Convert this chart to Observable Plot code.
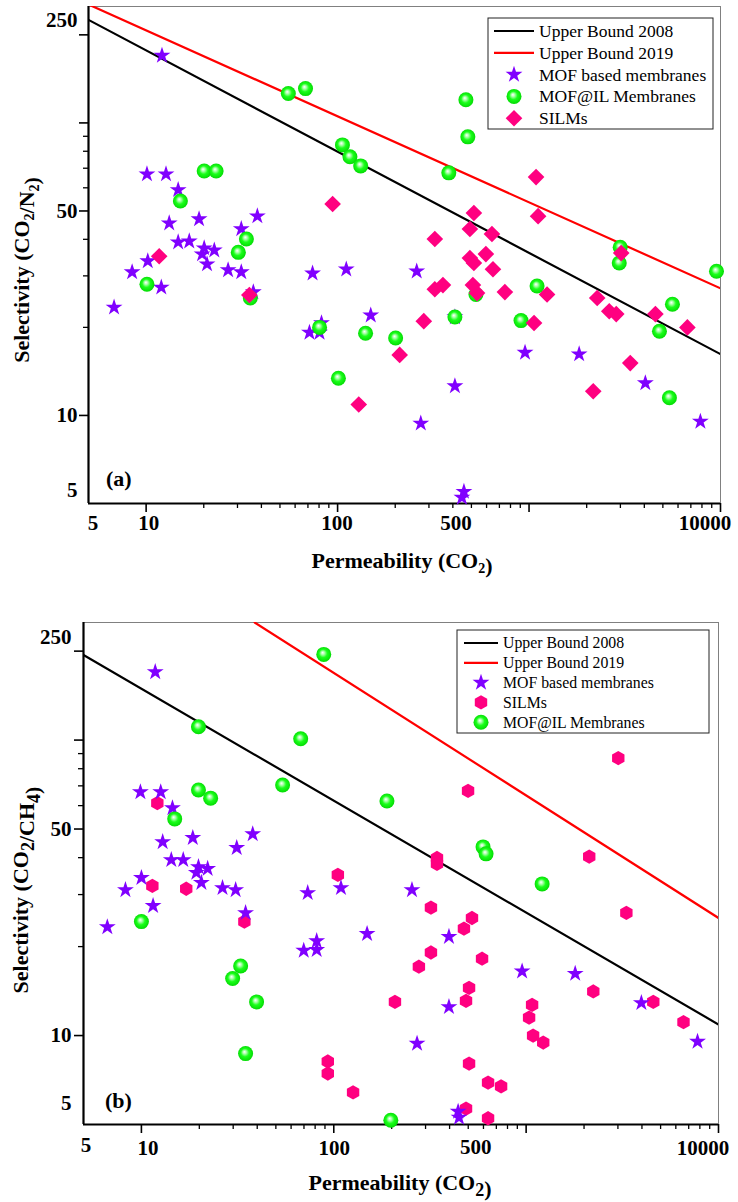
<!DOCTYPE html>
<html><head><meta charset="utf-8">
<script src="https://cdn.jsdelivr.net/npm/d3@7"></script>
<script src="https://cdn.jsdelivr.net/npm/@observablehq/plot@0.6"></script>
<style>
body{margin:0;background:#fff;}
#chart{width:738px;}
#chart svg{display:block;}
</style></head><body><div id="chart"></div>
<script>
// ---------- data ----------
const boundPerm = [5, 10000];
const aUB2008 = [225, 16.2];
const aUB2019 = [254, 27.2];
const bUB2008 = [194, 10.9];
const bUB2019Perm = [38.8, 10000];
const bUB2019 = [250, 25.0];

// Panel (a): CO2/N2
const aMofPerm = [12.1, 6.8, 8.45, 10.2, 10.1, 12.7, 14.7, 13.2, 14.7, 16.8, 18.9, 20.1, 22.7, 19.6, 20.8, 12.0, 26.8, 31.4, 31.4, 38.1, 36.3, 74.0, 111, 71.3, 82.4, 80.5, 149, 259, 272, 410, 410, 457, 446, 953, 1827, 4050, 7850];
const aMofSel = [170, 23.4, 30.9, 33.7, 66.8, 66.8, 59.0, 45.4, 39.1, 39.4, 46.9, 37.3, 36.7, 35.6, 32.9, 27.4, 31.4, 30.9, 43.4, 48.0, 26.4, 30.6, 31.6, 19.2, 20.7, 19.2, 22.0, 31.1, 9.39, 12.6, 21.7, 5.49, 5.24, 16.4, 16.2, 12.9, 9.53];
const aMoilPerm = [55.3, 68.0, 106, 116, 132, 20.1, 23.2, 15.1, 33.4, 30.3, 10.1, 35.0, 80.5, 101, 140, 201, 410, 528, 1101, 908, 2959, 2993, 9530, 5610, 4800, 5410, 468, 479, 381];
const aMoilSel = [126, 131, 84.1, 76.6, 71.3, 68.5, 68.5, 54.1, 40.1, 36.1, 28.1, 25.2, 20.0, 13.4, 19.1, 18.4, 21.7, 25.9, 27.7, 21.1, 33.2, 37.6, 31.1, 24.0, 19.4, 11.5, 120, 89.6, 67.5];
const aSilmPerm = [11.7, 94.2, 34.6, 129, 211, 282, 322, 515, 491, 640, 595, 491, 515, 648, 322, 355, 509, 535, 748, 1242, 1062, 1088, 1115, 2270, 2624, 2854, 3378, 2164, 4571, 6714, 3030];
const aSilmSel = [35.0, 52.8, 25.8, 10.9, 16.1, 21.0, 40.1, 49.2, 43.4, 41.7, 35.6, 34.5, 33.2, 31.6, 27.0, 27.9, 27.9, 26.2, 26.4, 25.9, 20.7, 65.3, 48.0, 25.2, 22.7, 22.2, 15.1, 12.1, 22.2, 20.0, 35.9];

// Panel (b): CO2/CH4
const bMofPerm = [11.8, 9.88, 12.6, 14.5, 12.9, 18.5, 31.3, 37.9, 14.3, 16.5, 19.8, 22.1, 19.3, 20.5, 26.4, 30.9, 10.0, 8.26, 11.5, 6.65, 34.8, 69.8, 81.5, 81.5, 149, 73.2, 109, 255, 397, 953, 397, 271, 448, 443, 1799, 3972, 7780];
const bMofSel = [170, 66.7, 66.7, 58.9, 45.2, 46.7, 43.2, 48.1, 39.3, 39.3, 37.2, 36.7, 35.6, 32.9, 31.6, 31.1, 34.2, 31.1, 27.5, 23.3, 26.0, 19.4, 19.5, 20.9, 22.1, 30.4, 31.6, 31.1, 21.6, 16.5, 12.5, 9.40, 5.28, 5.53, 16.2, 12.9, 9.54];
const bSilmPerm = [12.1, 11.4, 17.1, 105, 34.3, 93.1, 93.1, 126, 3013, 499, 344, 344, 2128, 3319, 320, 523, 475, 320, 590, 277, 505, 487, 208, 1074, 1036, 1087, 1227, 505, 634, 741, 487, 634, 2234, 4581, 6577];
const bSilmSel = [61.2, 32.1, 31.4, 35.0, 24.3, 8.17, 7.44, 6.42, 86.9, 67.3, 39.9, 38.1, 40.3, 26.0, 27.1, 25.0, 23.0, 19.1, 18.2, 17.1, 14.5, 13.1, 13.0, 12.7, 11.5, 10.0, 9.47, 8.04, 6.93, 6.73, 5.66, 5.25, 14.1, 13.0, 11.1];
const bMoilPerm = [88.7, 19.8, 67.3, 54.2, 19.8, 22.9, 14.9, 189, 597, 619, 1211, 10.0, 32.8, 29.8, 39.7, 34.8, 198];
const bMoilSel = [195, 111, 101, 70.5, 67.8, 63.6, 54.1, 62.2, 43.5, 41.2, 32.6, 24.3, 17.2, 15.6, 13.0, 8.69, 5.17];

// tick values / labels
const xDomain = [5, 10000];
const yDomain = [5, 250];
const xMajorTicks = [10, 100, 1000, 10000];
const xMinorTicks = [20, 30, 40, 50, 60, 70, 80, 90, 200, 300, 400, 500, 600, 700, 800, 900, 2000, 3000, 4000, 5000, 6000, 7000, 8000, 9000];
const yMajorTicks = [10, 50, 100, 200];
const yMinorTicks = [20, 30, 40, 60, 70, 80, 90];
const xTickLabels = [5, 10, 100, 500, 10000];
const xLabelShiftA = [5, 3, 0, -15, -15];
const xLabelShiftB = [3, 7, 1, 8, -15];
const yLabelsMid = [10, 50];

const legendA = ["Upper Bound 2008", "Upper Bound 2019", "MOF based membranes", "MOF@IL Membranes", "SILMs"];
const legendB = ["Upper Bound 2008", "Upper Bound 2019", "MOF based membranes", "SILMs", "MOF@IL Membranes"];

// ---------- styling ----------
const SERIF = '"Liberation Serif","Times New Roman",serif';
const PURPLE = "#8000FF", PINK = "#FF0080";
const rows = (xs, ys) => xs.map((x, i) => ({x, y: ys[i]}));
const fmt = d => String(d);

function axes(cfg) {
  const lab = {fontSize: 21, fontWeight: "bold", tickSize: 0, label: null, tickFormat: fmt};
  return [
    Plot.frame({stroke: "#808080", strokeWidth: 1}),
    Plot.axisX(xMajorTicks, {tickSize: 9, strokeWidth: 1.6, text: null, label: null}),
    Plot.axisX(xMinorTicks, {tickSize: 5, strokeWidth: 1.3, text: null, label: null}),
    Plot.axisY(yMajorTicks, {tickSize: 9, strokeWidth: 1.6, text: null, label: null}),
    Plot.axisY(yMinorTicks, {tickSize: 5, strokeWidth: 1.3, text: null, label: null}),
    Plot.axisY(yLabelsMid, {...lab, tickPadding: cfg.ypad}),
    Plot.axisY([250], {...lab, tickPadding: cfg.ypad, dy: cfg.dy250}),
    Plot.axisY([5], {...lab, tickPadding: cfg.ypad, dy: cfg.dy5}),
    Plot.ruleX([5], {stroke: "black", strokeWidth: 2.2}),
    Plot.ruleY([5], {stroke: "black", strokeWidth: 2.2})
  ];
}

function makePlot(cfg, marks) {
  return Plot.plot({
    width: 738, height: cfg.height,
    marginLeft: cfg.ml, marginRight: cfg.mr, marginTop: cfg.mt, marginBottom: cfg.mb,
    x: {type: "log", domain: xDomain, label: null},
    y: {type: "log", domain: yDomain, label: null},
    style: {fontFamily: SERIF, color: "black", background: "white", overflow: "visible"},
    marks: [...axes(cfg), ...marks]
  });
}

function addDefs(svg) {
  const g = svg.insert("defs", ":first-child").append("radialGradient")
    .attr("id", "sphere").attr("cx", "0.5").attr("cy", "0.5").attr("r", "0.55")
    .attr("fx", "0.42").attr("fy", "0.38");
  g.append("stop").attr("offset", "0").attr("stop-color", "#ffffff");
  g.append("stop").attr("offset", "0.22").attr("stop-color", "#a8ffa8");
  g.append("stop").attr("offset", "0.5").attr("stop-color", "#1aff1a");
  g.append("stop").attr("offset", "1").attr("stop-color", "#00d400");
}

function addText(plot, svg, cfg) {
  const fontStyle = t => t.attr("font-family", SERIF).attr("font-weight", "bold").attr("fill", "#000");
  // x tick labels, positioned through the plot's own x scale
  const sx = plot.scale("x");
  const yBase = cfg.height - cfg.mb;
  xTickLabels.forEach((v, i) => {
    fontStyle(svg.append("text")).attr("font-size", "21px").attr("text-anchor", "middle")
      .attr("x", sx.apply(v) + cfg.xShift[i])
      .attr("y", yBase + cfg.xdy[i]).text(fmt(v));
  });
  const yt = fontStyle(svg.append("text"))
    .attr("transform", `translate(${cfg.yTitleX},${cfg.yTitleY}) rotate(-90)`)
    .attr("text-anchor", "middle").attr("font-size", cfg.titleSize);
  cfg.yTitle.forEach(([s, sub]) => {
    if (sub) { yt.append("tspan").attr("dy", cfg.subShift).attr("font-size", cfg.subSize).text(s); yt.append("tspan").attr("dy", -cfg.subShift).text(""); }
    else yt.append("tspan").text(s);
  });
  const xt = fontStyle(svg.append("text"))
    .attr("x", cfg.xTitleX).attr("y", cfg.xTitleY)
    .attr("text-anchor", "middle").attr("font-size", cfg.titleSize);
  cfg.xTitle.forEach(([s, sub]) => {
    if (sub) { xt.append("tspan").attr("dy", cfg.subShift).attr("font-size", cfg.subSize).text(s); xt.append("tspan").attr("dy", -cfg.subShift).text(""); }
    else xt.append("tspan").text(s);
  });
  fontStyle(svg.append("text")).attr("x", cfg.tagX).attr("y", cfg.tagY)
    .attr("text-anchor", "start").attr("font-size", 22).text(cfg.tag);
}

function symPath(type, size) { return d3.symbol(type, size)(); }
function hexPath(r) {
  const ry = r * 2 / Math.sqrt(3), hy = ry / 2;
  return `M0,${ry}L${r},${hy}L${r},${-hy}L0,${-ry}L${-r},${-hy}L${-r},${hy}Z`;
}

function addLegend(svg, L, labels, kinds) {
  const g = svg.append("g");
  g.append("rect").attr("x", L.x).attr("y", L.y).attr("width", L.w).attr("height", L.h)
    .attr("fill", "white").attr("stroke", "#222").attr("stroke-width", 1);
  labels.forEach((lab, i) => {
    const cy = L.y0 + i * L.step;
    const k = kinds[i];
    if (k === "black" || k === "red") {
      g.append("line").attr("x1", L.lx1).attr("x2", L.lx2).attr("y1", cy).attr("y2", cy)
        .attr("stroke", k === "black" ? "black" : "#FF0000").attr("stroke-width", 2.2);
    } else if (k === "star") {
      g.append("path").attr("transform", `translate(${L.sx},${cy})`).attr("d", symPath(d3.symbolStar, Math.PI * 5.3 * 5.3)).attr("fill", PURPLE);
    } else if (k === "sphere") {
      g.append("circle").attr("cx", L.sx).attr("cy", cy).attr("r", 7.5).attr("fill", "url(#sphere)");
    } else if (k === "diamond") {
      g.append("path").attr("transform", `translate(${L.sx},${cy})`).attr("d", symPath(d3.symbolDiamond2, Math.PI * 7.5 * 7.5)).attr("fill", PINK);
    } else if (k === "hexagon") {
      g.append("path").attr("transform", `translate(${L.sx},${cy})`).attr("d", hexPath(6.2)).attr("fill", PINK);
    }
    g.append("text").attr("x", L.tx).attr("y", cy).attr("dy", "0.34em").attr("text-anchor", "start")
      .attr("font-family", SERIF).attr("font-size", L.fs).attr("font-weight", "normal").attr("fill", "black").text(lab);
  });
}

// ---------- panel (a) ----------
const cfgA = {height: 600, ml: 88, mr: 18, mt: 6, mb: 97, ypad: 11, dy250: 14, dy5: -13,
  xShift: xLabelShiftA, xdy: [27, 27, 27, 27, 27],
  yTitleX: 29, yTitleY: 270, xTitleX: 402, xTitleY: 568, titleSize: 22, subSize: 14, subShift: 5,
  yTitle: [["Selectivity (CO"], ["2", 1], ["/N"], ["2", 1], [")"]],
  xTitle: [["Permeability (CO"], ["2", 1], [")"]],
  tag: "(a)", tagX: 106, tagY: 486};
const plotA = makePlot(cfgA, [
  Plot.line(rows(boundPerm, aUB2008), {x: "x", y: "y", stroke: "black", strokeWidth: 2.2, clip: true}),
  Plot.line(rows(boundPerm, aUB2019), {x: "x", y: "y", stroke: "#FF0000", strokeWidth: 2.2, clip: true}),
  Plot.dot(rows(aMofPerm, aMofSel), {x: "x", y: "y", symbol: "star", r: 5.3, fill: PURPLE}),
  Plot.dot(rows(aMoilPerm, aMoilSel), {x: "x", y: "y", r: 7.5, fill: "url(#sphere)"}),
  Plot.dot(rows(aSilmPerm, aSilmSel), {x: "x", y: "y", symbol: "diamond2", r: 7.5, fill: PINK})
]);
const svgA = d3.select(plotA);
addDefs(svgA);
addLegend(svgA, {x: 488, y: 18, w: 225, h: 111, y0: 31, step: 21.8, lx1: 494, lx2: 534, sx: 514, tx: 539, fs: 17.5},
  legendA, ["black", "red", "star", "sphere", "diamond"]);
addText(plotA, svgA, cfgA);

// ---------- panel (b) ----------
const cfgB = {height: 602, ml: 83, mr: 20, mt: 22, mb: 78, ypad: 12, dy250: 15, dy5: -21,
  xShift: xLabelShiftB, xdy: [28, 31, 31, 30, 31],
  yTitleX: 28, yTitleY: 290, xTitleX: 400, xTitleY: 590, titleSize: 22, subSize: 18, subShift: 6,
  yTitle: [["Selectivity (CO"], ["2", 1], ["/CH"], ["4", 1], [")"]],
  xTitle: [["Permeability (CO"], ["2", 1], [")"]],
  tag: "(b)", tagX: 105, tagY: 508};
const plotB = makePlot(cfgB, [
  Plot.line(rows(boundPerm, bUB2008), {x: "x", y: "y", stroke: "black", strokeWidth: 2.2, clip: true}),
  Plot.line(rows(bUB2019Perm, bUB2019), {x: "x", y: "y", stroke: "#FF0000", strokeWidth: 2.2, clip: true}),
  Plot.dot(rows(bSilmPerm, bSilmSel), {x: "x", y: "y", symbol: "hexagon", r: 6.2, fill: PINK}),
  Plot.dot(rows(bMofPerm, bMofSel), {x: "x", y: "y", symbol: "star", r: 5.3, fill: PURPLE}),
  Plot.dot(rows(bMoilPerm, bMoilSel), {x: "x", y: "y", r: 7.5, fill: "url(#sphere)"})
]);
const svgB = d3.select(plotB);
addDefs(svgB);
addLegend(svgB, {x: 457, y: 30, w: 252, h: 103, y0: 43, step: 19.8, lx1: 464, lx2: 498, sx: 481, tx: 503, fs: 15.8},
  legendB, ["black", "red", "star", "hexagon", "sphere"]);
addText(plotB, svgB, cfgB);

document.getElementById("chart").append(plotA, plotB);
</script>
</body></html>
